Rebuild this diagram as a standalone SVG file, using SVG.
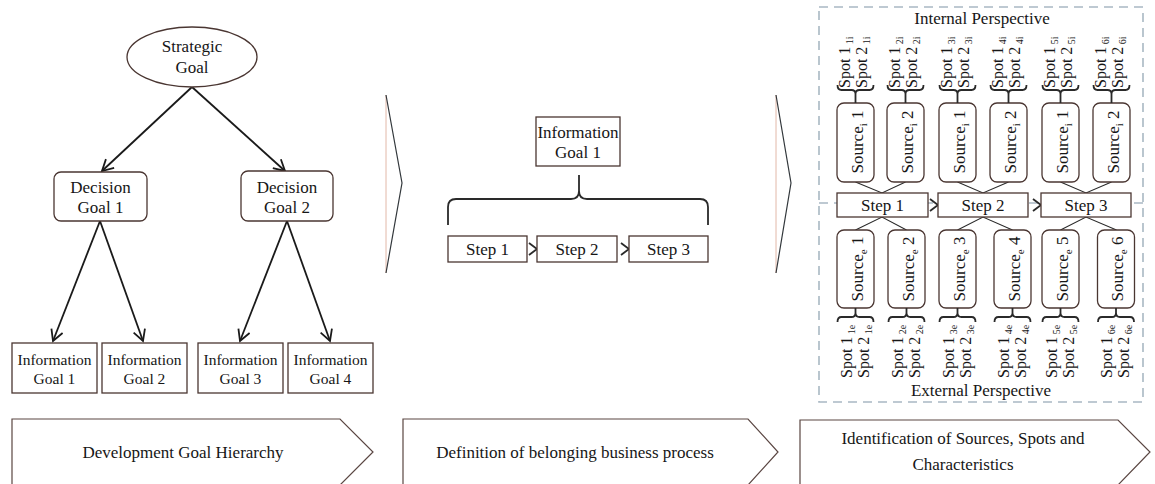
<svg xmlns="http://www.w3.org/2000/svg" width="1155" height="484" viewBox="0 0 1155 484">
  <defs>
    <style>
      .box { fill: #ffffff; stroke: #4a3632; stroke-width: 1.3; }
      .t { font-family: "Liberation Serif", "Times New Roman", serif; font-size: 17px; fill: #161616; text-anchor: middle; }
      .ts { font-family: "Liberation Serif", "Times New Roman", serif; font-size: 16px; fill: #161616; }
      .edge { fill: none; stroke: #1a1a1a; stroke-width: 1.8; }
      .thin { fill: none; stroke: #2a2a2a; stroke-width: 1.1; }
      .brace { fill: none; stroke: #2a2a2a; stroke-width: 1.8; }
      .chev { fill: #ffffff; stroke: #5a4642; stroke-width: 1.2; }
      .dash { fill: none; stroke: #a9b8c3; stroke-width: 1.6; stroke-dasharray: 9 6; }
    </style>
    <marker id="open" markerWidth="14" markerHeight="14" refX="12" refY="7" orient="auto" markerUnits="userSpaceOnUse">
      <path d="M1,1 L12,7 L1,13" fill="none" stroke="#1a1a1a" stroke-width="1.8"/>
    </marker>
  </defs>

  <!-- ===== Goal hierarchy ===== -->
  <g id="connectors-hierarchy">
    <line class="edge" x1="192" y1="87" x2="102" y2="171" marker-end="url(#open)"/>
    <line class="edge" x1="192" y1="87" x2="285" y2="171" marker-end="url(#open)"/>
    <line class="edge" x1="100" y1="221" x2="53" y2="341" marker-end="url(#open)"/>
    <line class="edge" x1="100" y1="221" x2="143" y2="341" marker-end="url(#open)"/>
    <line class="edge" x1="287" y1="221" x2="240" y2="341" marker-end="url(#open)"/>
    <line class="edge" x1="287" y1="221" x2="330" y2="341" marker-end="url(#open)"/>
  </g>

  <g id="strategic-goal">
    <ellipse class="box" cx="192" cy="57" rx="65" ry="30"/>
    <text class="t" x="192" y="52">Strategic</text>
    <text class="t" x="192" y="73">Goal</text>
  </g>
  <g id="decision-goal-1">
    <rect class="box" x="54" y="172" width="93" height="49" rx="7"/>
    <text class="t" x="100.5" y="193">Decision</text>
    <text class="t" x="100.5" y="213">Goal 1</text>
  </g>
  <g id="decision-goal-2">
    <rect class="box" x="241" y="171" width="92" height="50" rx="7"/>
    <text class="t" x="287" y="193">Decision</text>
    <text class="t" x="287" y="213">Goal 2</text>
  </g>
  <g id="information-goal-1">
    <rect class="box" x="12" y="343" width="85" height="50"/>
    <text class="t" x="54.5" y="365" style="font-size:15.5px">Information</text>
    <text class="t" x="54.5" y="384" style="font-size:15.5px">Goal 1</text>
  </g>
  <g id="information-goal-2">
    <rect class="box" x="102" y="343" width="85" height="50"/>
    <text class="t" x="144.5" y="365" style="font-size:15.5px">Information</text>
    <text class="t" x="144.5" y="384" style="font-size:15.5px">Goal 2</text>
  </g>
  <g id="information-goal-3">
    <rect class="box" x="198" y="343" width="85" height="50"/>
    <text class="t" x="240.5" y="365" style="font-size:15.5px">Information</text>
    <text class="t" x="240.5" y="384" style="font-size:15.5px">Goal 3</text>
  </g>
  <g id="information-goal-4">
    <rect class="box" x="288" y="343" width="85" height="50"/>
    <text class="t" x="330.5" y="365" style="font-size:15.5px">Information</text>
    <text class="t" x="330.5" y="384" style="font-size:15.5px">Goal 4</text>
  </g>

  <!-- ===== Phase separators ===== -->
  <g id="separator-1">
    <line x1="386" y1="95" x2="386" y2="273" stroke="#e2b8a8" stroke-width="1"/>
    <polyline points="386,95 402,183 386,273" fill="none" stroke="#33383c" stroke-width="1.2"/>
  </g>
  <g id="separator-2">
    <line x1="776" y1="95" x2="776" y2="273" stroke="#e2b8a8" stroke-width="1"/>
    <polyline points="776,95 791,183 776,273" fill="none" stroke="#33383c" stroke-width="1.2"/>
  </g>

  <!-- ===== Business process ===== -->
  <g id="process-goal">
    <rect class="box" x="536" y="117" width="84" height="49"/>
    <text class="t" x="578" y="138">Information</text>
    <text class="t" x="578" y="158">Goal 1</text>
  </g>
  <g id="process-connectors">
    <path class="brace" d="M448,225 L448,207 Q448,199 456,199 L571,199 Q579,199 579,191 L579,175 M579,191 Q579,199 587,199 L700,199 Q708,199 708,207 L708,225"/>
    <polyline class="brace" points="529,243 537,249 529,255"/>
    <polyline class="brace" points="621,243 629,249 621,255"/>
  </g>
  <g id="process-step-1">
    <rect class="box" x="448" y="236" width="79" height="26"/>
    <text class="t" x="487.5" y="255">Step 1</text>
  </g>
  <g id="process-step-2">
    <rect class="box" x="537" y="236" width="80" height="26"/>
    <text class="t" x="577" y="255">Step 2</text>
  </g>
  <g id="process-step-3">
    <rect class="box" x="629" y="236" width="79" height="26"/>
    <text class="t" x="668.5" y="255">Step 3</text>
  </g>

  <!-- ===== Sources and spots ===== -->
  <g id="perspective-frame">
    <rect class="dash" x="819" y="7" width="324" height="395"/>
    <line class="dash" x1="819" y1="203" x2="1143" y2="203"/>
    <text class="t" x="982" y="24">Internal Perspective</text>
    <text class="t" x="981" y="396">External Perspective</text>
  </g>

  <g id="source-connectors">
    <polyline class="thin" points="855.5,182 882,193 905.5,182"/>
    <polyline class="thin" points="957.5,182 983,193 1008.5,182"/>
    <polyline class="thin" points="1060.5,182 1086,193 1111.5,182"/>
    <polyline class="thin" points="855.5,230 882,217 906.5,230"/>
    <polyline class="thin" points="957.5,230 983,217 1012.5,230"/>
    <polyline class="thin" points="1060.5,230 1086,217 1116.5,230"/>
    <polyline class="brace" points="930,199 938,205 930,211"/>
    <polyline class="brace" points="1033,199 1041,205 1033,211"/>
  </g>

  <g id="step-1">
    <rect class="box" x="837" y="193" width="91" height="24"/>
    <text class="t" x="882.5" y="211">Step 1</text>
  </g>
  <g id="step-2">
    <rect class="box" x="938" y="193" width="90" height="24"/>
    <text class="t" x="983" y="211">Step 2</text>
  </g>
  <g id="step-3">
    <rect class="box" x="1041" y="193" width="90" height="24"/>
    <text class="t" x="1086" y="211">Step 3</text>
  </g>

  <!-- internal sources: box, spot brace and rotated labels -->
  <g id="source-i-1" transform="translate(855.5,0)">
    <rect class="box" x="-18.5" y="103" width="37" height="79" rx="7"/>
    <path class="brace" d="M-18,85 Q-18,90 -14,90 L-4,90 Q0,90 0,94 L0,103 M0,94 Q0,90 4,90 L14,90 Q18,90 18,85"/>
    <text class="t" transform="translate(7,142) rotate(-90)">Source<tspan dy="4" font-size="11">i</tspan><tspan dy="-4"> 1</tspan></text>
    <text class="ts" transform="translate(-6,88) rotate(-90)">Spot 1<tspan dy="3" font-size="10"> 1i</tspan></text>
    <text class="ts" transform="translate(11,88) rotate(-90)">Spot 2<tspan dy="3" font-size="10"> 1i</tspan></text>
  </g>
  <g id="source-i-2" transform="translate(905.5,0)">
    <rect class="box" x="-18.5" y="103" width="37" height="79" rx="7"/>
    <path class="brace" d="M-18,85 Q-18,90 -14,90 L-4,90 Q0,90 0,94 L0,103 M0,94 Q0,90 4,90 L14,90 Q18,90 18,85"/>
    <text class="t" transform="translate(7,142) rotate(-90)">Source<tspan dy="4" font-size="11">i</tspan><tspan dy="-4"> 2</tspan></text>
    <text class="ts" transform="translate(-6,88) rotate(-90)">Spot 1<tspan dy="3" font-size="10"> 2i</tspan></text>
    <text class="ts" transform="translate(11,88) rotate(-90)">Spot 2<tspan dy="3" font-size="10"> 2i</tspan></text>
  </g>
  <g id="source-i-3" transform="translate(957.5,0)">
    <rect class="box" x="-18.5" y="103" width="37" height="79" rx="7"/>
    <path class="brace" d="M-18,85 Q-18,90 -14,90 L-4,90 Q0,90 0,94 L0,103 M0,94 Q0,90 4,90 L14,90 Q18,90 18,85"/>
    <text class="t" transform="translate(7,142) rotate(-90)">Source<tspan dy="4" font-size="11">i</tspan><tspan dy="-4"> 1</tspan></text>
    <text class="ts" transform="translate(-6,88) rotate(-90)">Spot 1<tspan dy="3" font-size="10"> 3i</tspan></text>
    <text class="ts" transform="translate(11,88) rotate(-90)">Spot 2<tspan dy="3" font-size="10"> 3i</tspan></text>
  </g>
  <g id="source-i-4" transform="translate(1008.5,0)">
    <rect class="box" x="-18.5" y="103" width="37" height="79" rx="7"/>
    <path class="brace" d="M-18,85 Q-18,90 -14,90 L-4,90 Q0,90 0,94 L0,103 M0,94 Q0,90 4,90 L14,90 Q18,90 18,85"/>
    <text class="t" transform="translate(7,142) rotate(-90)">Source<tspan dy="4" font-size="11">i</tspan><tspan dy="-4"> 2</tspan></text>
    <text class="ts" transform="translate(-6,88) rotate(-90)">Spot 1<tspan dy="3" font-size="10"> 4i</tspan></text>
    <text class="ts" transform="translate(11,88) rotate(-90)">Spot 2<tspan dy="3" font-size="10"> 4i</tspan></text>
  </g>
  <g id="source-i-5" transform="translate(1060.5,0)">
    <rect class="box" x="-18.5" y="103" width="37" height="79" rx="7"/>
    <path class="brace" d="M-18,85 Q-18,90 -14,90 L-4,90 Q0,90 0,94 L0,103 M0,94 Q0,90 4,90 L14,90 Q18,90 18,85"/>
    <text class="t" transform="translate(7,142) rotate(-90)">Source<tspan dy="4" font-size="11">i</tspan><tspan dy="-4"> 1</tspan></text>
    <text class="ts" transform="translate(-6,88) rotate(-90)">Spot 1<tspan dy="3" font-size="10"> 5i</tspan></text>
    <text class="ts" transform="translate(11,88) rotate(-90)">Spot 2<tspan dy="3" font-size="10"> 5i</tspan></text>
  </g>
  <g id="source-i-6" transform="translate(1111.5,0)">
    <rect class="box" x="-18.5" y="103" width="37" height="79" rx="7"/>
    <path class="brace" d="M-18,85 Q-18,90 -14,90 L-4,90 Q0,90 0,94 L0,103 M0,94 Q0,90 4,90 L14,90 Q18,90 18,85"/>
    <text class="t" transform="translate(7,142) rotate(-90)">Source<tspan dy="4" font-size="11">i</tspan><tspan dy="-4"> 2</tspan></text>
    <text class="ts" transform="translate(-6,88) rotate(-90)">Spot 1<tspan dy="3" font-size="10"> 6i</tspan></text>
    <text class="ts" transform="translate(11,88) rotate(-90)">Spot 2<tspan dy="3" font-size="10"> 6i</tspan></text>
  </g>

  <!-- external sources -->
  <g id="source-e-1" transform="translate(855.5,0)">
    <rect class="box" x="-18.5" y="230" width="37" height="78" rx="7"/>
    <path class="brace" d="M-18,322 Q-18,317 -14,317 L-4,317 Q0,317 0,313 L0,308 M0,313 Q0,317 4,317 L14,317 Q18,317 18,322"/>
    <text class="t" transform="translate(7,269) rotate(-90)">Source<tspan dy="4" font-size="11">e</tspan><tspan dy="-4"> 1</tspan></text>
    <text class="ts" transform="translate(-4,378) rotate(-90)">Spot 1<tspan dy="3" font-size="10"> 1e</tspan></text>
    <text class="ts" transform="translate(13,378) rotate(-90)">Spot 2<tspan dy="3" font-size="10"> 1e</tspan></text>
  </g>
  <g id="source-e-2" transform="translate(906.5,0)">
    <rect class="box" x="-18.5" y="230" width="37" height="78" rx="7"/>
    <path class="brace" d="M-18,322 Q-18,317 -14,317 L-4,317 Q0,317 0,313 L0,308 M0,313 Q0,317 4,317 L14,317 Q18,317 18,322"/>
    <text class="t" transform="translate(7,269) rotate(-90)">Source<tspan dy="4" font-size="11">e</tspan><tspan dy="-4"> 2</tspan></text>
    <text class="ts" transform="translate(-4,378) rotate(-90)">Spot 1<tspan dy="3" font-size="10"> 2e</tspan></text>
    <text class="ts" transform="translate(13,378) rotate(-90)">Spot 2<tspan dy="3" font-size="10"> 2e</tspan></text>
  </g>
  <g id="source-e-3" transform="translate(957.5,0)">
    <rect class="box" x="-18.5" y="230" width="37" height="78" rx="7"/>
    <path class="brace" d="M-18,322 Q-18,317 -14,317 L-4,317 Q0,317 0,313 L0,308 M0,313 Q0,317 4,317 L14,317 Q18,317 18,322"/>
    <text class="t" transform="translate(7,269) rotate(-90)">Source<tspan dy="4" font-size="11">e</tspan><tspan dy="-4"> 3</tspan></text>
    <text class="ts" transform="translate(-4,378) rotate(-90)">Spot 1<tspan dy="3" font-size="10"> 3e</tspan></text>
    <text class="ts" transform="translate(13,378) rotate(-90)">Spot 2<tspan dy="3" font-size="10"> 3e</tspan></text>
  </g>
  <g id="source-e-4" transform="translate(1012.5,0)">
    <rect class="box" x="-18.5" y="230" width="37" height="78" rx="7"/>
    <path class="brace" d="M-18,322 Q-18,317 -14,317 L-4,317 Q0,317 0,313 L0,308 M0,313 Q0,317 4,317 L14,317 Q18,317 18,322"/>
    <text class="t" transform="translate(7,269) rotate(-90)">Source<tspan dy="4" font-size="11">e</tspan><tspan dy="-4"> 4</tspan></text>
    <text class="ts" transform="translate(-4,378) rotate(-90)">Spot 1<tspan dy="3" font-size="10"> 4e</tspan></text>
    <text class="ts" transform="translate(13,378) rotate(-90)">Spot 2<tspan dy="3" font-size="10"> 4e</tspan></text>
  </g>
  <g id="source-e-5" transform="translate(1060.5,0)">
    <rect class="box" x="-18.5" y="230" width="37" height="78" rx="7"/>
    <path class="brace" d="M-18,322 Q-18,317 -14,317 L-4,317 Q0,317 0,313 L0,308 M0,313 Q0,317 4,317 L14,317 Q18,317 18,322"/>
    <text class="t" transform="translate(7,269) rotate(-90)">Source<tspan dy="4" font-size="11">e</tspan><tspan dy="-4"> 5</tspan></text>
    <text class="ts" transform="translate(-4,378) rotate(-90)">Spot 1<tspan dy="3" font-size="10"> 5e</tspan></text>
    <text class="ts" transform="translate(13,378) rotate(-90)">Spot 2<tspan dy="3" font-size="10"> 5e</tspan></text>
  </g>
  <g id="source-e-6" transform="translate(1116,0)">
    <rect class="box" x="-18.5" y="230" width="37" height="78" rx="7"/>
    <path class="brace" d="M-18,322 Q-18,317 -14,317 L-4,317 Q0,317 0,313 L0,308 M0,313 Q0,317 4,317 L14,317 Q18,317 18,322"/>
    <text class="t" transform="translate(7,269) rotate(-90)">Source<tspan dy="4" font-size="11">e</tspan><tspan dy="-4"> 6</tspan></text>
    <text class="ts" transform="translate(-4,378) rotate(-90)">Spot 1<tspan dy="3" font-size="10"> 6e</tspan></text>
    <text class="ts" transform="translate(13,378) rotate(-90)">Spot 2<tspan dy="3" font-size="10"> 6e</tspan></text>
  </g>

  <!-- ===== Phase chevrons ===== -->
  <g id="phase-1">
    <polygon class="chev" points="12,419 340,419 373,452 340,485 12,485"/>
    <text class="t" x="183" y="458">Development  Goal Hierarchy</text>
  </g>
  <g id="phase-2">
    <polygon class="chev" points="403,419 748,419 778,452 748,485 403,485"/>
    <text class="t" x="575" y="458">Definition of belonging business process</text>
  </g>
  <g id="phase-3">
    <polygon class="chev" points="800,420 1118,420 1150,452 1118,485 800,485"/>
    <text class="t" x="963" y="444">Identification of Sources, Spots and</text>
    <text class="t" x="963" y="470">Characteristics</text>
  </g>
</svg>
